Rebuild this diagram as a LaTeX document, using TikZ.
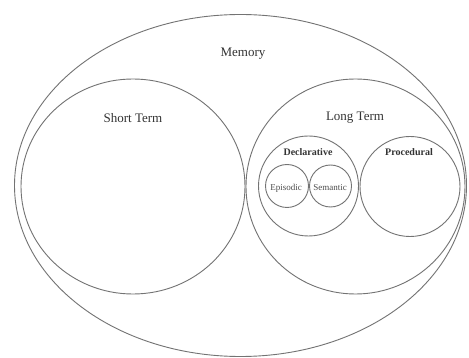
\documentclass[tikz,border=0pt]{standalone}
\usepackage{fontspec}
\setmainfont{Liberation Serif}
\usetikzlibrary{shapes.geometric}
\begin{document}
\begin{tikzpicture}[x=1pt,y=-1pt,
  ring/.style={draw=black!55,line width=0.9pt,fill=none},
  lbl/.style={inner sep=0pt,text=black!80},
  big/.style={lbl,font=\fontsize{13}{15}\selectfont},
  mid/.style={lbl,font=\fontsize{10}{12}\selectfont\bfseries},
  small/.style={lbl,font=\fontsize{9}{11}\selectfont,text=black!70}]
\useasboundingbox (0,0) rectangle (469,358);
\fill[white] (0,0) rectangle (469,358);
\node[ring,ellipse,minimum width=452pt,minimum height=342pt,inner sep=0pt] (memory) at (240.5,185.5) {};
\node[ring,ellipse,minimum width=224pt,minimum height=215pt,inner sep=0pt] (short) at (133,186.5) {};
\node[ring,ellipse,minimum width=219pt,minimum height=215pt,inner sep=0pt] (long) at (355.5,186.5) {};
\node[ring,circle,minimum size=100pt,inner sep=0pt] (decl) at (308.5,186) {};
\node[ring,circle,minimum size=100pt,inner sep=0pt] (proc) at (410,186.5) {};
\node[ring,circle,minimum size=43pt,inner sep=0pt] (epi) at (287,186) {};
\node[ring,circle,minimum size=42pt,inner sep=0pt] (sem) at (330.5,186) {};
\node[big] (tmem) at (243,54) {Memory};
\node[big] (tshort) at (133,118) {Short Term};
\node[big] (tlong) at (355,118) {Long Term};
\node[mid] (tdecl) at (308,152) {Declarative};
\node[mid] (tproc) at (409,152) {Procedural};
\node[small] (tepi) at (286,188) {Episodic};
\node[small] (tsem) at (330,188) {Semantic};
\end{tikzpicture}
\end{document}
